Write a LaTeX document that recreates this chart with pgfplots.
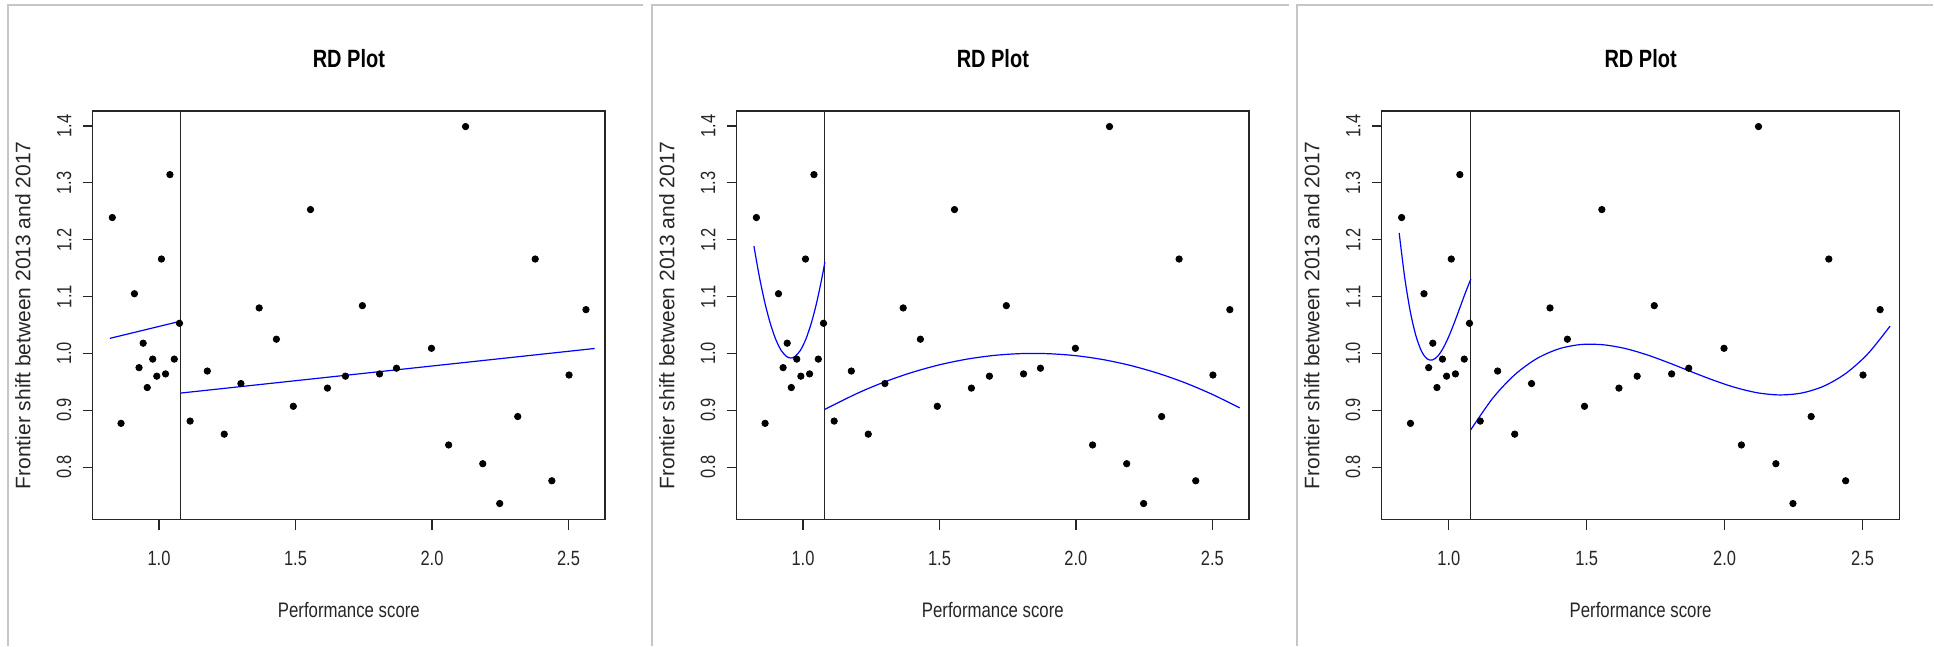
\documentclass[border=0pt]{standalone}
\usepackage{fontspec}
\setmainfont{Liberation Sans}[FakeStretch=0.8]
\newfontfamily\vfont{Liberation Sans}
\usepackage{pgfplots}
\usepackage{pgfplotstable}
\pgfplotsset{compat=1.18}

\pgfplotstableread{
x y
0.829 1.239
0.861 0.877
0.910 1.105
0.927 0.975
0.942 1.018
0.957 0.940
0.977 0.990
0.992 0.960
1.009 1.166
1.024 0.964
1.040 1.3145
1.056 0.990
1.075 1.053
1.114 0.881
1.177 0.969
1.239 0.858
1.300 0.947
1.367 1.080
1.430 1.025
1.492 0.907
1.555 1.253
1.617 0.939
1.683 0.960
1.745 1.084
1.808 0.964
1.870 0.974
1.998 1.009
2.061 0.839
2.123 1.399
2.186 0.806
2.248 0.736
2.314 0.889
2.378 1.166
2.439 0.776
2.502 0.962
2.564 1.077
}\pts

\pgfplotsset{rdstyle/.style={
  scale only axis, height=204.5pt,
  xmin=0.757, xmax=2.634, ymin=0.7075, ymax=1.4265,
  axis line style={black!85, line width=0.6pt},
  tick style={black!85, line width=0.6pt},
  tick align=outside, major tick length=5pt,
  xtick pos=left, ytick pos=left,
  xtick={1,1.5,2,2.5}, xticklabels={1.0,1.5,2.0,2.5},
  ytick={0.8,0.9,1.0,1.1,1.2,1.3,1.4},
  yticklabels={\rotatebox{90}{0.8},\rotatebox{90}{0.9},\rotatebox{90}{1.0},\rotatebox{90}{1.1},\rotatebox{90}{1.2},\rotatebox{90}{1.3},\rotatebox{90}{1.4}},
  ticklabel style={font=\fontsize{10.3}{12}\selectfont, text=black!85},
  xticklabel style={anchor=base, yshift=-17.9pt},
  yticklabel style={anchor=east, inner sep=0pt, xshift=-5.5pt},
  title={RD Plot},
  title style={font=\bfseries\fontsize{12.5}{14}\selectfont, at={(axis description cs:0.5,1)}, anchor=base, yshift=15.8pt},
  xlabel={Performance score},
  xlabel style={font=\fontsize{10.5}{12}\selectfont, text=black!85, at={([yshift=-49pt]axis description cs:0.5,0)}, anchor=base},
  ylabel={Frontier shift between 2013 and 2017},
  ylabel style={font=\vfont\fontsize{10.5}{12}\selectfont, text=black!85, at={([xshift=-31.2pt]axis description cs:0,0.5)}, anchor=base},
}}

\begin{document}
\begin{tikzpicture}
\path (0,0) rectangle (967pt,323pt);
\draw[gray!45, line width=1pt] (4.25pt,0) -- (4.25pt,320.25pt) -- (321.65pt,320.25pt);
\draw[gray!45, line width=1pt] (326.15pt,0) -- (326.15pt,320.25pt) -- (645pt,320.25pt);
\draw[gray!45, line width=1pt] (648.65pt,0) -- (648.65pt,320.25pt) -- (967pt,320.25pt);

% Panel 1: linear
\begin{axis}[rdstyle, width=256.35pt, at={(46.35pt,63pt)}, anchor=south west]
\addplot[black!85, line width=0.5pt] coordinates {(1.08,0.7075) (1.08,1.4265)};
\addplot[blue, line width=0.6pt] coordinates {(0.820,1.0265) (1.08,1.0568)};
\addplot[blue, line width=0.6pt] coordinates {(1.08,0.9303) (2.596,1.0087)};
\addplot[only marks, mark=*, mark size=1.6pt, black] table {\pts};
\end{axis}

% Panel 2: quadratic
\begin{axis}[rdstyle, width=256.25pt, at={(368.55pt,63pt)}, anchor=south west]
\addplot[black!85, line width=0.5pt] coordinates {(1.08,0.7075) (1.08,1.4265)};
\addplot[blue, line width=0.6pt, smooth] coordinates {
(0.82,1.1888) (0.84,1.1348) (0.86,1.0895) (0.88,1.0528) (0.90,1.0247) (0.92,1.0052)
(0.94,0.9944) (0.955,0.992) (0.97,0.9944) (0.99,1.0052) (1.01,1.0247) (1.03,1.0528)
(1.05,1.0895) (1.07,1.1348) (1.08,1.1608)};
\addplot[blue, line width=0.6pt, smooth] coordinates {
(1.08,0.9017) (1.2,0.9301) (1.3,0.9501) (1.4,0.9667) (1.5,0.9800) (1.6,0.9899)
(1.7,0.9965) (1.8,0.9997) (1.9,0.9995) (2.0,0.9960) (2.1,0.9891) (2.2,0.9788)
(2.3,0.9652) (2.4,0.9483) (2.5,0.9279) (2.6,0.9042)};
\addplot[only marks, mark=*, mark size=1.6pt, black] table {\pts};
\end{axis}

% Panel 3: cubic
\begin{axis}[rdstyle, width=258.95pt, at={(691.25pt,63pt)}, anchor=south west]
\addplot[black!85, line width=0.5pt] coordinates {(1.08,0.7075) (1.08,1.4265)};
\addplot[blue, line width=0.6pt, smooth] coordinates {
(0.82,1.212) (0.84,1.1338) (0.86,1.0745) (0.88,1.0322) (0.90,1.0049) (0.92,0.9909)
(0.94,0.9883) (0.96,0.9952) (0.98,1.0097) (1.00,1.0299) (1.02,1.0540) (1.04,1.0802)
(1.06,1.1065) (1.08,1.1310)};
\addplot[blue, line width=0.6pt, smooth] coordinates {
(1.08,0.8660) (1.16,0.9217) (1.24,0.9629) (1.32,0.9912) (1.40,1.0082) (1.48,1.0157)
(1.56,1.0152) (1.64,1.0086) (1.72,0.9973) (1.80,0.9831) (1.88,0.9677) (1.96,0.9528)
(2.04,0.9399) (2.12,0.9307) (2.20,0.9270) (2.28,0.9304) (2.36,0.9425) (2.44,0.9650)
(2.52,0.9996) (2.60,1.0480)};
\addplot[only marks, mark=*, mark size=1.6pt, black] table {\pts};
\end{axis}
\end{tikzpicture}
\end{document}
